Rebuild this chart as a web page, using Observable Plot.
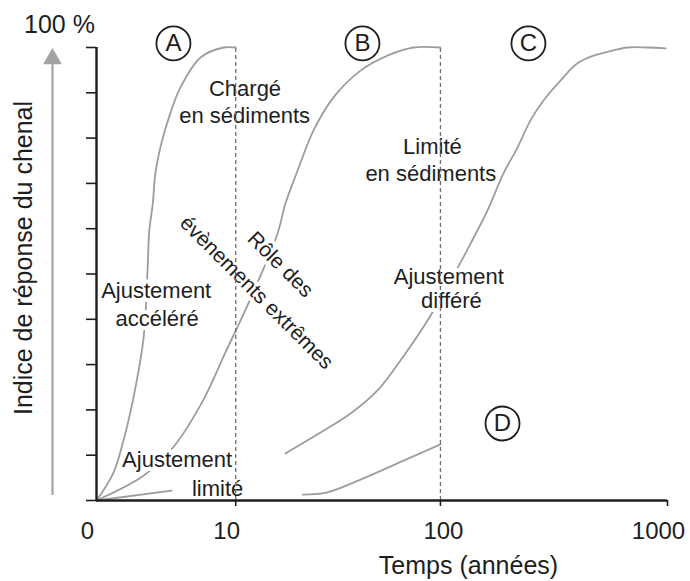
<!DOCTYPE html>
<html><head><meta charset="utf-8">
<script src="https://cdn.jsdelivr.net/npm/d3@7"></script>
<script src="https://cdn.jsdelivr.net/npm/@observablehq/plot@0.6"></script>
<style>
body{margin:0;background:#fff}
</style>
</head><body><div id="chart"></div>
<script>
// ---- data ----
// Curve A : ajustement accéléré
const curveAx = [0, 0.6, 1.0, 1.5, 2.0, 2.2, 2.3, 2.5, 2.65, 2.95, 3.6, 4.35, 6.05, 8.5, 10];
const curveAy = [0, 6, 12.8, 23.2, 36.4, 50.8, 59.6, 65.6, 72.2, 77.9, 85.4, 91.2, 97.8, 100, 100];
// Curve B : rôle des évènements extrêmes
const curveBx = [0, 2.0, 3.8, 6.3, 8.7, 11.8, 16.9, 18.6, 21.4, 25.7, 32.1, 43.1, 57.5, 75.6, 100];
const curveBy = [0, 5.5, 11.7, 22.1, 32.7, 43.5, 58.9, 65.6, 72.8, 81.7, 89.0, 94.9, 98.2, 100, 100];
// Curve C : ajustement différé
const curveCx = [18.6, 27.8, 38.7, 51.7, 65.9, 90.2, 122.9, 136.3, 162.1, 190.9, 220.1, 251.2, 286.5, 340.3, 404, 474.9, 574.9, 668.6, 817.7, 980];
const curveCy = [10.4, 15.0, 19.2, 24.3, 30.9, 40.8, 52.5, 56.7, 64.0, 72.2, 77.9, 83.9, 88.3, 92.7, 96.5, 98.2, 99.3, 100, 100, 99.8];
// Curve D
const curveDx = [22.7, 30.0, 44.5, 68.1, 100];
const curveDy = [1.3, 1.8, 4.9, 8.8, 12.4];
// Ajustement limité (short line from origin)
const curveEx = [0, 3.7];
const curveEy = [0, 2.2];

// circled scenario letters
const letters = ["A", "B", "C", "D"];
const letterX = [3.83, 44.0, 246, 189];
const letterY = [100.9, 100.9, 100.9, 17.0];

// annotations (white halo, cutting the curves)
const noteText = ["Ajustement", "accéléré", "Ajustement", "limité", "Ajustement", "différé"];
const noteX = [2.7, 2.75, 4.1, 7.8, 109, 112];
const noteY = [44.6, 38.6, 7.3, 1.1, 47.9, 42.6];
// regime annotations (no halo)
const regimeText = ["Chargé", "en sédiments", "Limité", "en sédiments"];
const regimeX = [11.3, 11.25, 92, 90.5];
const regimeY = [89.4, 83.4, 76.4, 70.6];
// diagonal annotations
const diagText = ["Rôle des", "évènements extrêmes"];
const diagX = [17.5, 13.1];
const diagY = [52.1, 45.9];

// threshold dashed lines
const thresholds = [10, 100];
// axes
const xTickValues = [10, 100, 1000];
const xLabelValues = [0, 10, 1000];
const xLabelValuesB = [100];
const yTickValues = d3.range(0, 101, 10);
const arrowSpan = [1.1, 97.5];
const xTitle = "Temps (années)";
const yTitle = "Indice de réponse du chenal";
const topTitle = "100 %";

// ---- build tables ----
const curves = [
  ...curveAx.map((x, i) => ({curve: "A", x, y: curveAy[i]})),
  ...curveBx.map((x, i) => ({curve: "B", x, y: curveBy[i]})),
  ...curveCx.map((x, i) => ({curve: "C", x, y: curveCy[i]})),
  ...curveDx.map((x, i) => ({curve: "D", x, y: curveDy[i]})),
  ...curveEx.map((x, i) => ({curve: "E", x, y: curveEy[i]}))
];
const letterData = letters.map((t, i) => ({t, x: letterX[i], y: letterY[i]}));
const notes = noteText.map((t, i) => ({t, x: noteX[i], y: noteY[i]}));
const regimes = regimeText.map((t, i) => ({t, x: regimeX[i], y: regimeY[i]}));
const diags = diagText.map((t, i) => ({t, x: diagX[i], y: diagY[i]}));

const ink = "#1e1e1e";
const grey = "#9d9d9d";

const chart = Plot.plot({
  width: 690,
  height: 581,
  marginLeft: 96,
  marginRight: 23,
  marginTop: 47,
  marginBottom: 81,
  style: {fontFamily: '"Liberation Sans", Arial, Helvetica, sans-serif', background: "white", color: ink, overflow: "visible"},
  x: {type: "symlog", constant: 3.3, domain: [0, 1000]},
  y: {domain: [0, 100]},
  marks: [
    // grey arrow left of the y axis (shaft + filled head)
    Plot.ruleX([0], {y1: arrowSpan[0], y2: arrowSpan[1], dx: -44, stroke: "#a3a3a3", strokeWidth: 2.2}),
    Plot.dot([arrowSpan[1]], {x: 0, y: d => d, dx: -44, symbol: "triangle", r: 7, fill: "#a3a3a3", stroke: "none"}),
    // curves
    Plot.line(curves, {x: "x", y: "y", z: "curve", stroke: grey, strokeWidth: 1.8, curve: "catmull-rom"}),
    // annotations with halo
    Plot.text(notes, {x: "x", y: "y", text: "t", fontSize: 22, fill: ink, stroke: "white", strokeWidth: 8, paintOrder: "stroke", lineAnchor: "bottom"}),
    Plot.text(diags, {x: "x", y: "y", text: "t", fontSize: 21, fill: ink, stroke: "white", strokeWidth: 8, paintOrder: "stroke", rotate: 45, lineAnchor: "middle"}),
    Plot.text(regimes, {x: "x", y: "y", text: "t", fontSize: 22, fill: ink, lineAnchor: "bottom"}),
    // dashed thresholds
    Plot.ruleX(thresholds, {y1: 0, y2: 100, stroke: "#6e6e6e", strokeWidth: 1.3, strokeDasharray: "4,3"}),
    // axes lines
    Plot.axisY({ticks: yTickValues, tickSize: 10, tickFormat: () => "", label: null, stroke: ink, strokeWidth: 1.6}),
    Plot.axisX({ticks: xTickValues, tickSize: 6, tickFormat: () => "", label: null, stroke: ink, strokeWidth: 1.6}),
    Plot.ruleX([0], {y1: 0, y2: 100, stroke: ink, strokeWidth: 2.4}),
    Plot.ruleY([0], {x1: 0, x2: 1000, stroke: ink, strokeWidth: 2.4}),
    Plot.axisX({ticks: xLabelValues, tickSize: 0, tickPadding: 21, label: null, fontSize: 24, dx: -9, tickFormat: d => String(d)}),
    Plot.axisX({ticks: xLabelValuesB, tickSize: 0, tickPadding: 21, label: null, fontSize: 24, dx: 3, tickFormat: d => String(d)}),
    // titles
    Plot.text([xTitle], {x: 133.5, frameAnchor: "bottom", dy: 73, lineAnchor: "bottom", textAnchor: "middle", fontSize: 25, fill: ink}),
    Plot.text([yTitle], {frameAnchor: "left", rotate: -90, dx: -73, dy: -16, lineAnchor: "middle", textAnchor: "middle", fontSize: 25, fill: ink}),
    Plot.text([topTitle], {frameAnchor: "top-left", dx: -37, dy: -15, lineAnchor: "bottom", textAnchor: "middle", fontSize: 25, fill: ink}),
    // circled letters
    Plot.dot(letterData, {x: "x", y: "y", r: 17, stroke: ink, strokeWidth: 1.8, fill: "white"}),
    Plot.text(letterData, {x: "x", y: "y", text: "t", fontSize: 24, fill: ink, lineAnchor: "middle"})
  ]
});
document.getElementById("chart").append(chart);
</script>
</body></html>
